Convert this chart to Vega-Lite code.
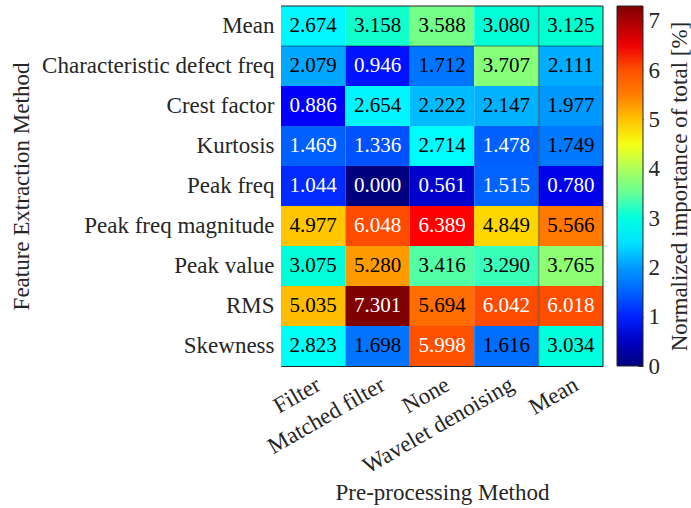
{
  "$schema": "https://vega.github.io/schema/vega-lite/v6.json",
  "width": 322,
  "height": 360,
  "autosize": {"type": "none"},
  "padding": {"left": 281, "top": 6, "right": 88, "bottom": 142},
  "background": "white",
  "config": {
    "font": "Liberation Serif",
    "view": {"stroke": null},
    "axis": {
      "labelFont": "Liberation Serif",
      "titleFont": "Liberation Serif",
      "labelColor": "#262626",
      "titleColor": "#262626",
      "domainColor": "#262626",
      "tickColor": "#262626",
      "labelFontSize": 23,
      "titleFontSize": 23,
      "titleFontWeight": "normal",
      "labelLimit": 0,
      "zindex": 1
    },
    "legend": {
      "labelFont": "Liberation Serif",
      "titleFont": "Liberation Serif"
    }
  },
  "data": {
    "values": [
      {"feature": "Mean", "method": "Filter", "v": 2.674},
      {"feature": "Mean", "method": "Matched filter", "v": 3.158},
      {"feature": "Mean", "method": "None", "v": 3.588},
      {"feature": "Mean", "method": "Wavelet denoising", "v": 3.080},
      {"feature": "Mean", "method": "Mean", "v": 3.125},
      {"feature": "Characteristic defect freq", "method": "Filter", "v": 2.079},
      {"feature": "Characteristic defect freq", "method": "Matched filter", "v": 0.946},
      {"feature": "Characteristic defect freq", "method": "None", "v": 1.712},
      {"feature": "Characteristic defect freq", "method": "Wavelet denoising", "v": 3.707},
      {"feature": "Characteristic defect freq", "method": "Mean", "v": 2.111},
      {"feature": "Crest factor", "method": "Filter", "v": 0.886},
      {"feature": "Crest factor", "method": "Matched filter", "v": 2.654},
      {"feature": "Crest factor", "method": "None", "v": 2.222},
      {"feature": "Crest factor", "method": "Wavelet denoising", "v": 2.147},
      {"feature": "Crest factor", "method": "Mean", "v": 1.977},
      {"feature": "Kurtosis", "method": "Filter", "v": 1.469},
      {"feature": "Kurtosis", "method": "Matched filter", "v": 1.336},
      {"feature": "Kurtosis", "method": "None", "v": 2.714},
      {"feature": "Kurtosis", "method": "Wavelet denoising", "v": 1.478},
      {"feature": "Kurtosis", "method": "Mean", "v": 1.749},
      {"feature": "Peak freq", "method": "Filter", "v": 1.044},
      {"feature": "Peak freq", "method": "Matched filter", "v": 0.000},
      {"feature": "Peak freq", "method": "None", "v": 0.561},
      {"feature": "Peak freq", "method": "Wavelet denoising", "v": 1.515},
      {"feature": "Peak freq", "method": "Mean", "v": 0.780},
      {"feature": "Peak freq magnitude", "method": "Filter", "v": 4.977},
      {"feature": "Peak freq magnitude", "method": "Matched filter", "v": 6.048},
      {"feature": "Peak freq magnitude", "method": "None", "v": 6.389},
      {"feature": "Peak freq magnitude", "method": "Wavelet denoising", "v": 4.849},
      {"feature": "Peak freq magnitude", "method": "Mean", "v": 5.566},
      {"feature": "Peak value", "method": "Filter", "v": 3.075},
      {"feature": "Peak value", "method": "Matched filter", "v": 5.280},
      {"feature": "Peak value", "method": "None", "v": 3.416},
      {"feature": "Peak value", "method": "Wavelet denoising", "v": 3.290},
      {"feature": "Peak value", "method": "Mean", "v": 3.765},
      {"feature": "RMS", "method": "Filter", "v": 5.035},
      {"feature": "RMS", "method": "Matched filter", "v": 7.301},
      {"feature": "RMS", "method": "None", "v": 5.694},
      {"feature": "RMS", "method": "Wavelet denoising", "v": 6.042},
      {"feature": "RMS", "method": "Mean", "v": 6.018},
      {"feature": "Skewness", "method": "Filter", "v": 2.823},
      {"feature": "Skewness", "method": "Matched filter", "v": 1.698},
      {"feature": "Skewness", "method": "None", "v": 5.998},
      {"feature": "Skewness", "method": "Wavelet denoising", "v": 1.616},
      {"feature": "Skewness", "method": "Mean", "v": 3.034}
    ]
  },
  "resolve": {"scale": {"y": "independent"}, "axis": {"y": "independent"}},
  "layer": [
    {
      "layer": [
        {
          "mark": {"type": "rect"},
          "encoding": {
            "x": {
              "field": "method", "type": "nominal",
              "sort": ["Filter", "Matched filter", "None", "Wavelet denoising", "Mean"],
              "scale": {"domain": ["Filter", "Matched filter", "None", "Wavelet denoising", "Mean"], "paddingInner": 0, "paddingOuter": 0},
              "axis": {"title": "Pre-processing Method", "labelAngle": -30, "labelAlign": "right", "labelBaseline": "top", "tickSize": -5, "labelPadding": 12, "titlePadding": 4}
            },
            "y": {
              "field": "feature", "type": "nominal",
              "sort": ["Mean", "Characteristic defect freq", "Crest factor", "Kurtosis", "Peak freq", "Peak freq magnitude", "Peak value", "RMS", "Skewness"],
              "scale": {"domain": ["Mean", "Characteristic defect freq", "Crest factor", "Kurtosis", "Peak freq", "Peak freq magnitude", "Peak value", "RMS", "Skewness"], "paddingInner": 0, "paddingOuter": 0},
              "axis": {"title": "Feature Extraction Method", "tickSize": -5, "labelPadding": 12, "titlePadding": 48}
            },
            "color": {
              "field": "v", "type": "quantitative",
              "scale": {
                "domain": [0, 0.9126, 1.8253, 2.7379, 3.6505, 4.5631, 5.4758, 6.3884, 7.301],
                "range": ["#00007F", "#0000FF", "#007FFF", "#00FFFF", "#7FFF7F", "#FFFF00", "#FF7F00", "#FF0000", "#7F0000"]
              },
              "legend": {
                "title": null,
                "labelExpr": "''",
                "labelOpacity": 0,
                "orient": "none",
                "legendX": 336,
                "legendY": 0,
                "gradientLength": 360,
                "gradientThickness": 26,
                "gradientStrokeColor": "#262626",
                "gradientStrokeWidth": 1,
                "padding": 0
              }
            }
          }
        },
        {
          "mark": {"type": "text", "fontSize": 21, "font": "Liberation Serif"},
          "encoding": {
            "x": {"field": "method", "type": "nominal", "sort": ["Filter", "Matched filter", "None", "Wavelet denoising", "Mean"]},
            "y": {"field": "feature", "type": "nominal", "sort": ["Mean", "Characteristic defect freq", "Crest factor", "Kurtosis", "Peak freq", "Peak freq magnitude", "Peak value", "RMS", "Skewness"]},
            "text": {"field": "v", "type": "quantitative", "format": ".3f"},
            "color": {
              "condition": {"test": "datum.v < 1.55 || datum.v > 5.9", "value": "white"},
              "value": "black"
            }
          }
        },
        {
          "data": {"values": [{"method": "Mean"}]},
          "mark": {"type": "rule", "color": "#000000", "opacity": 0.3, "strokeWidth": 1.5},
          "encoding": {
            "x": {"field": "method", "type": "nominal", "bandPosition": 0}
          }
        },
        {
          "data": {"values": [{"feature": "Characteristic defect freq"}]},
          "mark": {"type": "rule", "color": "#000000", "opacity": 0.3, "strokeWidth": 1.5},
          "encoding": {
            "y": {"field": "feature", "type": "nominal", "bandPosition": 0}
          }
        },
        {
          "data": {"values": [{"method": "Mean"}]},
          "mark": {"type": "rule", "color": "#262626", "strokeWidth": 1},
          "encoding": {
            "x": {"field": "method", "type": "nominal", "bandPosition": 1}
          }
        },
        {
          "data": {"values": [{"feature": "Mean"}]},
          "mark": {"type": "rule", "color": "#262626", "strokeWidth": 1},
          "encoding": {
            "y": {"field": "feature", "type": "nominal", "bandPosition": 0}
          }
        }
      ]
    },
    {
      "mark": {"type": "tick", "opacity": 0},
      "encoding": {
        "y": {
          "field": "v", "type": "quantitative",
          "scale": {"domain": [0, 7.301], "nice": false, "zero": true},
          "axis": {
            "orient": "right",
            "offset": 40,
            "title": "Normalized importance of total [%]",
            "titleAngle": 270,
            "titlePadding": 32,
            "values": [0, 1, 2, 3, 4, 5, 6, 7],
            "labelFontSize": 23,
            "labelPadding": 10,
            "labelFlush": false,
            "labelAlign": "left",
            "labelBaseline": "middle",
            "domain": false,
            "tickSize": -5,
            "grid": false
          }
        }
      }
    }
  ]
}
